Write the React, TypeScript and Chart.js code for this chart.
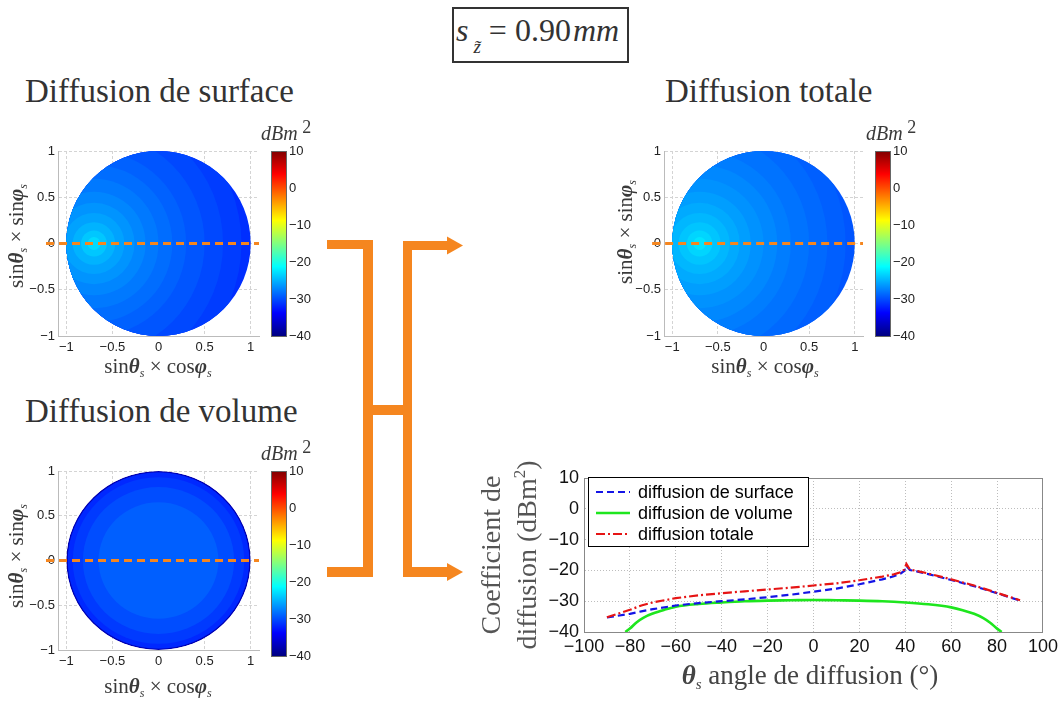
import React, { useEffect, useRef } from 'react';
import { Chart, registerables } from 'chart.js';
Chart.register(...registerables);

// ---------------- data ----------------
// Line chart (theta in degrees, coefficients in dBm^2)
const thetaSurfTot = [-90, -80, -75, -70, -60, -50, -40, -30, -20, -10, 0, 10, 20, 30, 35, 38, 39.5, 40.5, 42, 45, 50, 60, 70, 80, 90];
const surfaceDb = [-35.3, -34.1, -33.3, -32.6, -31.4, -30.6, -30.0, -29.4, -28.7, -27.9, -26.9, -25.9, -24.5, -22.9, -21.9, -21.0, -20.2, -18.6, -19.9, -20.3, -21.2, -23.1, -25.1, -27.4, -29.8];
const totalDb = [-35.2, -32.8, -31.4, -30.4, -29.0, -28.1, -27.4, -26.8, -26.2, -25.6, -24.9, -24.2, -23.2, -22.0, -21.3, -20.6, -19.8, -17.9, -19.7, -20.2, -21.0, -22.9, -24.9, -27.3, -29.7];
const thetaVolume = [-82, -80, -77, -74, -70, -65, -60, -50, -40, -30, -20, -10, 0, 10, 20, 30, 40, 50, 60, 65, 70, 74, 77, 80, 82];
const volumeDb = [-40, -38.9, -36.8, -35.3, -34.0, -32.8, -31.8, -30.9, -30.4, -30.0, -29.8, -29.7, -29.6, -29.7, -29.8, -30.0, -30.4, -31.0, -32.0, -32.9, -34.1, -35.5, -37.0, -38.9, -40];
const seriesLabels = ['diffusion de surface', 'diffusion de volume', 'diffusion totale'];
const lineXTicks = [-100, -80, -60, -40, -20, 0, 20, 40, 60, 80, 100];
const lineYTicks = [-40, -30, -20, -10, 0, 10];

// Hemisphere maps (contour rings, value in dBm^2)
const diskTicks = [-1, -0.5, 0, 0.5, 1];
const colorbarTicks = [-40, -30, -20, -10, 0, 10];
const surfaceRingCenterX = -0.7;
const surfaceRingRadius = [1.8, 1.6, 1.4, 1.2, 1.0, 0.85, 0.7, 0.56, 0.44, 0.33, 0.23, 0.14, 0.07];
const surfaceRingDb = [-31.5, -30.8, -30.2, -29.6, -29.0, -28.4, -27.8, -27.2, -26.5, -25.8, -25.0, -24.0, -23.0];
const totalRingCenterX = -0.7;
const totalRingRadius = [1.8, 1.6, 1.4, 1.2, 1.0, 0.85, 0.7, 0.56, 0.44, 0.33, 0.23, 0.14, 0.07];
const totalRingDb = [-29.6, -29.1, -28.6, -28.1, -27.6, -27.1, -26.6, -26.0, -25.4, -24.8, -24.1, -23.3, -22.5];
const volumeRingCenterX = 0;
const volumeRingRadius = [1.0, 0.985, 0.93, 0.82, 0.65];
const volumeRingDb = [-37.5, -31.8, -30.9, -30.0, -29.1];
const cutLineX = [-1.22, 1.09];
const cutLineY = [0, 0];

// ---------------- styles ----------------
const SERIF = '"Liberation Serif", "Times New Roman", serif';
const SANS = '"Liberation Sans", Arial, Helvetica, sans-serif';
const ORANGE = '#f5861f';
const CB_MIN = -40;
const CB_MAX = 10;

function jet(v: number) {
  const t = (v - CB_MIN) / (CB_MAX - CB_MIN);
  const c = (x: number) => Math.max(0, Math.min(1, x));
  const r = c(1.5 - Math.abs(4 * t - 3));
  const g = c(1.5 - Math.abs(4 * t - 2));
  const b = c(1.5 - Math.abs(4 * t - 1));
  return `rgb(${Math.round(r * 255)},${Math.round(g * 255)},${Math.round(b * 255)})`;
}

function fmt(v: number) {
  return v < 0 ? '\u2212' + String(Math.abs(v)) : String(v);
}

type Run = { t: string; font: string; dy?: number };
type RichItem = { runs: Run[]; x: number; y: number; rot?: number; color?: string; align?: 'left' | 'center' };

function drawRuns(ctx: CanvasRenderingContext2D, it: RichItem) {
  ctx.save();
  ctx.translate(it.x, it.y);
  if (it.rot) ctx.rotate(it.rot);
  let w = 0;
  for (const r of it.runs) { ctx.font = r.font; w += ctx.measureText(r.t).width; }
  let cx = it.align === 'left' ? 0 : -w / 2;
  ctx.fillStyle = it.color || '#444';
  ctx.textAlign = 'left';
  ctx.textBaseline = 'alphabetic';
  for (const r of it.runs) {
    ctx.font = r.font;
    ctx.fillText(r.t, cx, r.dy || 0);
    cx += ctx.measureText(r.t).width;
  }
  ctx.restore();
}

const richPlugin = {
  id: 'rich',
  afterDraw(chart: any, _a: any, opts: any) {
    if (!opts || !opts.items) return;
    for (const it of opts.items) drawRuns(chart.ctx, it);
  },
};

const diskPlugin = {
  id: 'disk',
  beforeDatasetsDraw(chart: any, _a: any, opts: any) {
    if (!opts || !opts.radii) return;
    const { ctx } = chart;
    const xs = chart.scales.x, ys = chart.scales.y;
    const cx0 = xs.getPixelForValue(0), cy0 = ys.getPixelForValue(0);
    const rx = xs.getPixelForValue(1) - cx0, ry = cy0 - ys.getPixelForValue(1);
    ctx.save();
    ctx.beginPath();
    ctx.ellipse(cx0, cy0, rx, ry, 0, 0, Math.PI * 2);
    ctx.clip();
    const ccx = xs.getPixelForValue(opts.centerX);
    opts.radii.forEach((r: number, i: number) => {
      ctx.beginPath();
      ctx.ellipse(ccx, cy0, r * rx, r * ry, 0, 0, Math.PI * 2);
      ctx.fillStyle = jet(opts.values[i]);
      ctx.fill();
    });
    ctx.restore();
  },
};

const framePlugin = {
  id: 'frame',
  afterDraw(chart: any, _a: any, opts: any) {
    if (!opts || !opts.color) return;
    const a = chart.chartArea;
    const ctx = chart.ctx;
    ctx.save();
    ctx.strokeStyle = opts.color;
    ctx.lineWidth = opts.width || 1;
    ctx.strokeRect(Math.round(a.left) + 0.5, Math.round(a.top) + 0.5, Math.round(a.right - a.left) - 1, Math.round(a.bottom - a.top));
    ctx.restore();
  },
};

const legendPlugin = {
  id: 'boxLegend',
  afterDraw(chart: any, _a: any, opts: any) {
    if (!opts || !opts.box) return;
    const ctx = chart.ctx;
    const a = chart.chartArea;
    const [bx, by, bw, bh] = opts.box;
    ctx.save();
    ctx.fillStyle = '#fff';
    ctx.fillRect(a.left + bx, a.top + by, bw, bh);
    ctx.strokeStyle = '#000';
    ctx.lineWidth = 1;
    ctx.strokeRect(a.left + bx + 0.5, a.top + by + 0.5, bw, bh);
    ctx.font = opts.font;
    ctx.textBaseline = 'middle';
    ctx.fillStyle = '#000';
    chart.data.datasets.forEach((ds: any, i: number) => {
      const y = a.top + opts.rows[i];
      ctx.beginPath();
      ctx.setLineDash(ds.borderDash || []);
      ctx.strokeStyle = ds.borderColor;
      ctx.lineWidth = ds.borderWidth;
      ctx.moveTo(a.left + opts.lineX[0], y);
      ctx.lineTo(a.left + opts.lineX[1], y);
      ctx.stroke();
      ctx.setLineDash([]);
      ctx.fillText(ds.label, a.left + opts.textX, y + 1);
    });
    ctx.restore();
  },
};

// ---------------- chart configs ----------------
function axisRuns(size: number, second: string): Run[] {
  const reg = `${size}px ${SERIF}`;
  const bi = `bold italic ${size}px ${SERIF}`;
  const sub = `italic ${Math.round(size * 0.55)}px ${SERIF}`;
  return [
    { t: 'sin', font: reg },
    { t: '\u03b8', font: bi },
    { t: 's', font: sub, dy: 4 },
    { t: ' \u00d7 ', font: reg },
    { t: second, font: reg },
    { t: '\u03c6', font: bi },
    { t: 's', font: sub, dy: 4 },
  ];
}

function diskConfig(o: {
  centerX: number; radii: number[]; values: number[]; yAxisWidth: number;
  yLab: [number, number]; xLab: [number, number];
}) {
  const tickFont = { family: SANS, size: 13 };
  return {
    type: 'scatter',
    data: {
      datasets: [{
        data: cutLineX.map((x, i) => ({ x, y: cutLineY[i] })),
        showLine: true,
        borderColor: ORANGE,
        borderWidth: 3,
        borderDash: [8, 5],
        pointRadius: 0,
        clip: false,
      }],
    },
    options: {
      animation: false,
      responsive: false,
      devicePixelRatio: 1,
      layout: { padding: { top: 31, right: 3, left: 0, bottom: 0 } },
      plugins: {
        legend: { display: false },
        tooltip: { enabled: false },
        disk: { centerX: o.centerX, radii: o.radii, values: o.values },
        rich: {
          items: [
            { runs: axisRuns(21, 'sin'), x: o.yLab[0], y: o.yLab[1], rot: -Math.PI / 2, color: '#3a3a3a' },
            { runs: axisRuns(21, 'cos'), x: o.xLab[0], y: o.xLab[1], color: '#3a3a3a' },
          ],
        },
      },
      scales: {
        x: {
          type: 'linear', min: -1.09, max: 1.09,
          afterBuildTicks: (s: any) => { s.ticks = diskTicks.map((v) => ({ value: v })); },
          afterFit: (s: any) => { s.height = 54; },
          ticks: { font: tickFont, color: '#222', padding: 4, maxRotation: 0, callback: (v: any) => fmt(v) },
          grid: { color: '#d4d4d4', drawTicks: false },
          border: { display: true, color: '#bbb', dash: [3, 2] },
        },
        y: {
          type: 'linear', min: -1, max: 1,
          afterBuildTicks: (s: any) => { s.ticks = diskTicks.map((v) => ({ value: v })); },
          afterFit: (s: any) => { s.width = o.yAxisWidth; },
          ticks: { font: tickFont, color: '#222', padding: 3, callback: (v: any) => fmt(v) },
          grid: { color: '#d4d4d4', drawTicks: false },
          border: { display: true, color: '#bbb', dash: [3, 2] },
        },
      },
    },
    plugins: [diskPlugin, richPlugin],
  };
}

function colorbarConfig(titleX: number) {
  return {
    type: 'bar',
    data: {
      labels: ['dBm2'],
      datasets: [{
        data: [[CB_MIN, CB_MAX]],
        backgroundColor: (ctx: any) => {
          const a = ctx.chart.chartArea;
          if (!a) return '#0000ff';
          const g = ctx.chart.ctx.createLinearGradient(0, a.bottom, 0, a.top);
          for (let i = 0; i <= 40; i++) g.addColorStop(i / 40, jet(CB_MIN + (i / 40) * (CB_MAX - CB_MIN)));
          return g;
        },
        borderWidth: 0,
        barPercentage: 1,
        categoryPercentage: 1,
      }],
    },
    options: {
      animation: false,
      responsive: false,
      devicePixelRatio: 1,
      layout: { padding: { left: 16, top: 41, right: 0, bottom: 14 } },
      plugins: {
        legend: { display: false },
        tooltip: { enabled: false },
        frame: { color: '#666', width: 1 },
        rich: {
          items: [{
            runs: [
              { t: 'dBm', font: `italic 20px ${SERIF}` },
              { t: ' 2', font: `18px ${SERIF}`, dy: -7 },
            ],
            x: titleX, y: 30, align: 'left', color: '#3a3a3a',
          }],
        },
      },
      scales: {
        x: { display: false },
        y: {
          position: 'right', min: CB_MIN, max: CB_MAX,
          afterBuildTicks: (s: any) => { s.ticks = colorbarTicks.map((v) => ({ value: v })); },
          afterFit: (s: any) => { s.width = 33; },
          ticks: { font: { family: SANS, size: 13 }, color: '#222', padding: 2, callback: (v: any) => fmt(v) },
          grid: { display: false, drawTicks: false },
          border: { display: false },
        },
      },
    },
    plugins: [framePlugin, richPlugin],
  };
}

function lineConfig() {
  const tickFont = { family: SANS, size: 18 };
  const yt = 28;
  return {
    type: 'line',
    data: {
      datasets: [
        {
          label: seriesLabels[0],
          data: thetaSurfTot.map((x, i) => ({ x, y: surfaceDb[i] })),
          borderColor: '#1414e6', borderWidth: 2.2, borderDash: [7, 4], pointRadius: 0, order: 1,
        },
        {
          label: seriesLabels[1],
          data: thetaVolume.map((x, i) => ({ x, y: volumeDb[i] })),
          borderColor: '#1ee61e', borderWidth: 2.6, pointRadius: 0, order: 2, cubicInterpolationMode: 'monotone',
        },
        {
          label: seriesLabels[2],
          data: thetaSurfTot.map((x, i) => ({ x, y: totalDb[i] })),
          borderColor: '#e61414', borderWidth: 2.2, borderDash: [9, 3, 2, 3], pointRadius: 0, order: 0,
        },
      ],
    },
    options: {
      animation: false,
      responsive: false,
      devicePixelRatio: 1,
      layout: { padding: { top: 18, right: 18, left: 0, bottom: 0 } },
      plugins: {
        legend: { display: false },
        tooltip: { enabled: false },
        frame: { color: '#888', width: 1 },
        boxLegend: {
          box: [4, -1, 220, 69],
          rows: [14, 35, 56],
          lineX: [12, 46],
          textX: 54,
          font: `18px ${SANS}`,
        },
        rich: {
          items: [
            { runs: [{ t: 'Coefficient de', font: `${yt}px ${SERIF}` }], x: 30, y: 95, rot: -Math.PI / 2, color: '#555' },
            {
              runs: [
                { t: 'diffusion (dBm', font: `${yt}px ${SERIF}` },
                { t: '2', font: `17px ${SERIF}`, dy: -11 },
                { t: ')', font: `${yt}px ${SERIF}` },
              ],
              x: 66, y: 95, rot: -Math.PI / 2, color: '#555',
            },
            {
              runs: [
                { t: '\u03b8', font: `bold italic 27px ${SERIF}` },
                { t: 's', font: `italic 15px ${SERIF}`, dy: 5 },
                { t: ' angle de diffusion (\u00b0)', font: `27px ${SERIF}` },
              ],
              x: 340, y: 224, color: '#444',
            },
          ],
        },
      },
      scales: {
        x: {
          type: 'linear', min: -100, max: 100,
          afterBuildTicks: (s: any) => { s.ticks = lineXTicks.map((v) => ({ value: v })); },
          afterFit: (s: any) => { s.height = 72; },
          ticks: { font: tickFont, color: '#111', padding: 4, maxRotation: 0, callback: (v: any) => fmt(v) },
          grid: { color: '#bdbdbd', drawTicks: false },
          border: { display: true, color: '#888', dash: [1, 2] },
        },
        y: {
          type: 'linear', min: -40, max: 10,
          afterBuildTicks: (s: any) => { s.ticks = lineYTicks.map((v) => ({ value: v })); },
          afterFit: (s: any) => { s.width = 114; },
          ticks: { font: tickFont, color: '#111', padding: 5, callback: (v: any) => fmt(v) },
          grid: { color: '#bdbdbd', drawTicks: false },
          border: { display: true, color: '#888', dash: [1, 2] },
        },
      },
    },
    plugins: [framePlugin, legendPlugin, richPlugin],
  };
}

// ---------------- components ----------------
function ChartBox(p: { left: number; top: number; width: number; height: number; make: () => any }) {
  const ref = useRef<HTMLCanvasElement>(null);
  useEffect(() => {
    const c = new Chart(ref.current as HTMLCanvasElement, p.make());
    return () => c.destroy();
  }, []);
  return (
    <canvas
      ref={ref}
      width={p.width}
      height={p.height}
      style={{ position: 'absolute', left: p.left, top: p.top, width: p.width, height: p.height }}
    />
  );
}

const titleStyle: React.CSSProperties = {
  position: 'absolute',
  font: `33px ${SERIF}`,
  lineHeight: '33px',
  color: '#333',
  whiteSpace: 'nowrap',
};

function Arrows() {
  return (
    <svg width={1062} height={704} style={{ position: 'absolute', left: 0, top: 0 }}>
      <g fill={ORANGE}>
        <rect x={327} y={240} width={46} height={9} />
        <rect x={363} y={240} width={10} height={337} />
        <rect x={327} y={567} width={46} height={10} />
        <rect x={373} y={405} width={30} height={10} />
        <rect x={403} y={241} width={9} height={336} />
        <rect x={403} y={241} width={46} height={9} />
        <polygon points="447,236.5 463,245.5 447,254.5" />
        <rect x={403} y={567} width={46} height={10} />
        <polygon points="447,563 463,572 447,581" />
      </g>
    </svg>
  );
}

export default function App() {
  return (
    <div style={{ position: 'fixed', left: 0, top: 0, width: 1062, height: 704, background: '#fff', overflow: 'hidden' }}>
      <div
        style={{
          position: 'absolute', left: 452, top: 7, width: 177, height: 56, boxSizing: 'border-box',
          border: '2px solid #333', font: `32px ${SERIF}`, lineHeight: '42px', color: '#333', paddingLeft: 2,
          whiteSpace: 'nowrap',
        }}
      >
        <span style={{ fontStyle: 'italic' }}>s</span>
        <span style={{ fontStyle: 'italic', fontSize: 19, position: 'relative', top: 12, marginLeft: 5 }}>z&#771;</span>
        <span style={{ marginLeft: 8 }}>=</span>
        <span style={{ marginLeft: 8 }}>0.90</span>
        <span style={{ fontStyle: 'italic', marginLeft: 2 }}>mm</span>
      </div>

      <div style={{ ...titleStyle, left: 25, top: 75 }}>Diffusion de surface</div>
      <div style={{ ...titleStyle, left: 665, top: 75 }}>Diffusion totale</div>
      <div style={{ ...titleStyle, left: 25, top: 395 }}>Diffusion de volume</div>

      <ChartBox left={0} top={120} width={262} height={270}
        make={() => diskConfig({ centerX: surfaceRingCenterX, radii: surfaceRingRadius, values: surfaceRingDb, yAxisWidth: 58, yLab: [23, 116], xLab: [158, 253] })} />
      <ChartBox left={255} top={110} width={65} height={240} make={() => colorbarConfig(6)} />

      <ChartBox left={580} top={120} width={286} height={270}
        make={() => diskConfig({ centerX: totalRingCenterX, radii: totalRingRadius, values: totalRingDb, yAxisWidth: 84, yLab: [52, 112], xLab: [185, 253] })} />
      <ChartBox left={859} top={110} width={65} height={240} make={() => colorbarConfig(7)} />

      <ChartBox left={0} top={440} width={262} height={264}
        make={() => diskConfig({ centerX: volumeRingCenterX, radii: volumeRingRadius, values: volumeRingDb, yAxisWidth: 58, yLab: [23, 116], xLab: [158, 253] })} />
      <ChartBox left={255} top={430} width={65} height={240} make={() => colorbarConfig(6)} />

      <Arrows />

      <ChartBox left={470} top={460} width={592} height={244} make={() => lineConfig()} />
    </div>
  );
}
